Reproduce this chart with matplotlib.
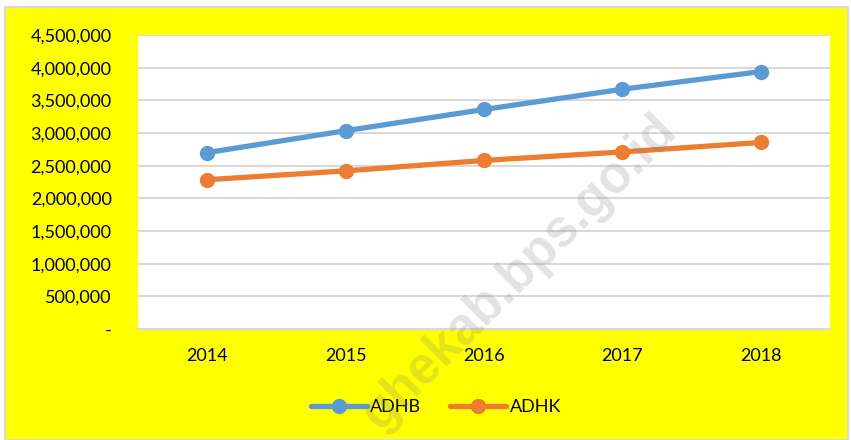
import matplotlib.pyplot as plt
from matplotlib.patches import Rectangle
from matplotlib.ticker import FuncFormatter

# data
years = ['2014', '2015', '2016', '2017', '2018']
adhb = [2700000, 3035000, 3360000, 3670000, 3940000]
adhk = [2285000, 2420000, 2580000, 2710000, 2855000]

blue = '#5b9bd5'
orange = '#ed7d31'
grid_col = '#d9d9d9'

plt.rcParams['font.family'] = ['Lato', 'DejaVu Sans']

fig = plt.figure(figsize=(8.51, 4.40), dpi=100)
fig.patch.set_facecolor('white')
# yellow chart area with thin gray border
bg = Rectangle((5 / 851, 0), 843 / 851, 1 - 7 / 440,
               transform=fig.transFigure, facecolor='#ffff00',
               edgecolor='#d9d9d9', linewidth=1.5, zorder=-10)
fig.patches.append(bg)

ax = fig.add_axes([138 / 851, 1 - 329 / 440, 692 / 851, 294 / 440])
ax.set_facecolor('white')

x = range(len(years))
ax.plot(x, adhb, color=blue, lw=3.8, marker='o', ms=10, label='ADHB',
        solid_capstyle='round', zorder=3)
ax.plot(x, adhk, color=orange, lw=3.8, marker='o', ms=10, label='ADHK',
        solid_capstyle='round', zorder=3)

ax.set_xlim(-0.5, 4.5)
ax.set_ylim(0, 4500000)
ax.set_yticks(range(0, 4500001, 500000))
ax.yaxis.set_major_formatter(FuncFormatter(lambda v, p: '-' if v == 0 else f'{int(v):,}'))
ax.set_xticks(list(x))
ax.set_xticklabels(years)
ax.tick_params(axis='both', length=0, labelsize=13)
ax.tick_params(axis='y', pad=19)
ax.tick_params(axis='x', pad=14)
ax.grid(axis='y', color=grid_col, lw=1.5)
ax.set_axisbelow(True)
for s in ['top', 'left', 'right']:
    ax.spines[s].set_visible(False)
ax.spines['bottom'].set_color(grid_col)
ax.spines['bottom'].set_linewidth(1.5)

fig.legend(loc='center', bbox_to_anchor=(436 / 851, 1 - 407 / 440), ncol=2,
           frameon=False, fontsize=13, handlelength=3.1, handletextpad=0.2,
           columnspacing=1.6)

# watermark
fig.text(520 / 851, 1 - 272 / 440, 'ghekab.bps.go.id', rotation=45,
         fontsize=37, fontweight='bold', color='gray', alpha=0.22,
         ha='center', va='center', family=['Liberation Sans', 'DejaVu Sans'],
         zorder=10)

fig.savefig('out.png', dpi=100, facecolor=fig.get_facecolor())
